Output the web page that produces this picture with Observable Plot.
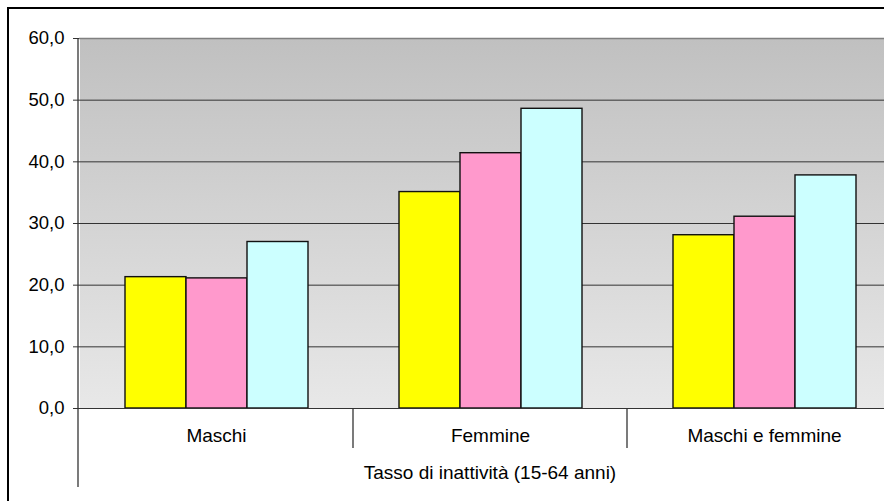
<!DOCTYPE html>
<html><head><meta charset="utf-8">
<script src="https://cdn.jsdelivr.net/npm/d3@7"></script>
<script src="https://cdn.jsdelivr.net/npm/@observablehq/plot@0.6"></script>
<style>
html,body{margin:0;padding:0;overflow:hidden;background:#fff;width:884px;height:501px}
#wrap{position:relative;width:884px;height:501px;overflow:hidden}
#border{position:absolute;left:7px;top:7px;width:2000px;height:2000px;border-left:2px solid #000;border-top:2px solid #000;pointer-events:none}
#chart{position:absolute;left:0;top:0;width:902px}
#chart svg{max-width:none !important}
</style></head><body>
<div id="wrap"><div id="chart"></div><div id="border"></div></div>
<script>
const groups = ["Maschi", "Femmine", "Maschi e femmine"];
const series = ["Serie 1", "Serie 2", "Serie 3"];
const colors = ["#ffff00", "#ff99cc", "#ccffff"];
const serie1 = [21.3, 35.1, 28.1];
const serie2 = [21.1, 41.4, 31.1];
const serie3 = [27.0, 48.6, 37.8];
const yTicks = [0, 10, 20, 30, 40, 50, 60];
const axisTitle = "Tasso di inattività (15-64 anni)";

const values = [serie1, serie2, serie3];
const data = groups.flatMap((g, i) => series.map((s, j) => ({group: g, series: s, value: values[j][i]})));
const fmt = d => d.toFixed(1).replace(".", ",");
const font = "'Liberation Sans', Arial, sans-serif";

const chart = Plot.plot({
  width: 902, height: 501,
  marginLeft: 78, marginRight: 0, marginTop: 38, marginBottom: 93,
  style: {fontFamily: font, background: "transparent", overflow: "visible", color: "#000", maxWidth: "none"},
  fx: {domain: groups, padding: 0},
  x: {domain: series, paddingInner: 0, paddingOuter: 0.738, axis: null},
  y: {domain: [0, 60]},
  color: {domain: series, range: colors},
  marks: [
    Plot.frame({fill: "url(#bg)", insetRight: -1, shapeRendering: "crispEdges"}),
    Plot.gridY(yTicks.slice(1, -1), {stroke: "#333", strokeOpacity: 1}),
    Plot.ruleY([60], {stroke: "#808080", strokeWidth: 1.5}),
    Plot.barY(data, {fx: "group", x: "series", y: "value", fill: "series", stroke: "#111", strokeWidth: 1.4}),
    Plot.ruleY([0], {stroke: "#333"}),
    Plot.axisY(yTicks, {tickSize: 6, tickPadding: 9, tickFormat: fmt, fontSize: 18.5, stroke: "#333", fill: "#000", label: null}),
    Plot.axisFx({anchor: "bottom", tickSize: 0, tickPadding: 20, fontSize: 19, label: null, fill: "#000"})
  ]
});
chart.style.maxWidth = "none";

const svg = d3.select(chart);
svg.insert("defs", ":first-child").html(
  '<linearGradient id="bg" x1="0" y1="0" x2="0" y2="1">' +
  '<stop offset="0" stop-color="#c0c0c0"/><stop offset="1" stop-color="#e8e8e8"/></linearGradient>');

const fx = chart.scale("fx"), y = chart.scale("y");
const left = fx.range[0], right = fx.range[1];
const y0 = y.apply(0), yTop = y.apply(60);
const g = svg.append("g").attr("stroke", "#333").attr("stroke-width", 1.3);
g.append("line").attr("x1", left).attr("x2", left).attr("y1", yTop).attr("y2", y0 + 79);
groups.slice(1).forEach(d => {
  const x = fx.apply(d);
  g.append("line").attr("x1", x).attr("x2", x).attr("y1", y0).attr("y2", y0 + 40);
});
g.append("line").attr("x1", right).attr("x2", right).attr("y1", y0).attr("y2", y0 + 40);
svg.append("text")
  .attr("x", (left + right) / 2).attr("y", y0 + 71)
  .attr("text-anchor", "middle")
  .attr("font-family", font).attr("font-size", 19).attr("fill", "#000")
  .text(axisTitle);

document.getElementById("chart").appendChild(chart);
</script>
</body></html>
